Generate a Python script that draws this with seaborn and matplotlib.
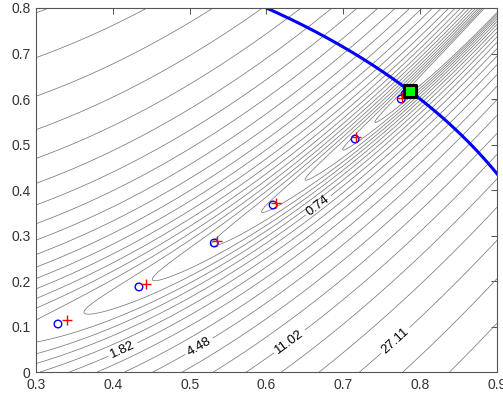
import numpy as np
import pandas as pd
import matplotlib
matplotlib.use("Agg")
import matplotlib.pyplot as plt
import seaborn as sns

sns.set_style("white")
plt.rcParams["font.family"] = ["Liberation Sans", "DejaVu Sans"]

# log-spaced contour levels of the Rosenbrock function
log_levels = np.round(np.arange(-3.0, 4.21, 0.3), 2)
label_levels = [-0.3, 0.6, 1.5, 2.4, 3.3]
label_pos = [(0.667, 0.367), (0.4145, 0.044), (0.512, 0.057), (0.6306, 0.066), (0.7646, 0.075)]

# iterates
iter_x = [0.3286, 0.434, 0.532, 0.6086, 0.7154, 0.7753, 0.7805]
iter_y = [0.1055, 0.187, 0.2835, 0.367, 0.512, 0.600, 0.611]
trial_x = [0.340, 0.443, 0.536, 0.6125, 0.7167, 0.776, 0.782]
trial_y = [0.114, 0.193, 0.288, 0.371, 0.516, 0.603, 0.613]

# constrained optimum
opt_x = [0.7864]
opt_y = [0.6177]


def rosen(x, y):
    return 100 * (y - x ** 2) ** 2 + (1 - x) ** 2


gx, gy = np.meshgrid(np.linspace(0.3, 0.9, 400), np.linspace(0.0, 0.8, 400))
gz = rosen(gx, gy)

fig = plt.figure(figsize=(5.03, 3.98), dpi=100)
ax = fig.add_axes([0.0716, 0.0653, 0.9164, 0.9146])

plain = [l for l in log_levels if not any(abs(l - m) < 1e-6 for m in label_levels)]
ax.contour(gx, gy, gz, levels=np.exp(plain), colors="#7a7a7a", linewidths=0.55)
cs = ax.contour(gx, gy, gz, levels=np.exp(label_levels), colors="#7a7a7a", linewidths=0.55)
ax.clabel(cs, manual=label_pos, fmt="%.2f", fontsize=9.5, colors="black", inline=True,
          inline_spacing=3)

# unit circle constraint
t = np.linspace(0, np.pi / 2, 300)
circ = pd.DataFrame({"x": np.cos(t), "y": np.sin(t)})
sns.lineplot(data=circ, x="x", y="y", sort=False, color="#0000ff", linewidth=2.2, ax=ax)

sns.scatterplot(x=iter_x, y=iter_y, marker="o", s=30, facecolor="none", edgecolor="#0000ff",
                linewidth=1.0, ax=ax, zorder=5)
sns.scatterplot(x=trial_x, y=trial_y, marker="+", s=60, color="#ff0000", linewidth=1.0, ax=ax, zorder=6)
sns.scatterplot(x=opt_x, y=opt_y, marker="s", s=85, color="#00ff00", edgecolor="black",
                linewidth=2.2, ax=ax, zorder=7)

ax.set_xlim(0.3, 0.9)
ax.set_ylim(0, 0.8)
ax.set_xticks([0.3, 0.4, 0.5, 0.6, 0.7, 0.8, 0.9])
ax.set_xticklabels(["0.3", "0.4", "0.5", "0.6", "0.7", "0.8", "0.9"])
ax.set_yticks([0, 0.1, 0.2, 0.3, 0.4, 0.5, 0.6, 0.7, 0.8])
ax.set_yticklabels(["0", "0.1", "0.2", "0.3", "0.4", "0.5", "0.6", "0.7", "0.8"])
ax.set_xlabel("")
ax.set_ylabel("")
ax.tick_params(direction="in", top=True, right=True, length=4, width=0.6, labelsize=10,
               colors="#333333", pad=4)
for sp in ax.spines.values():
    sp.set_color("#555555")
    sp.set_linewidth(0.8)

fig.savefig("out.png", dpi=100)
